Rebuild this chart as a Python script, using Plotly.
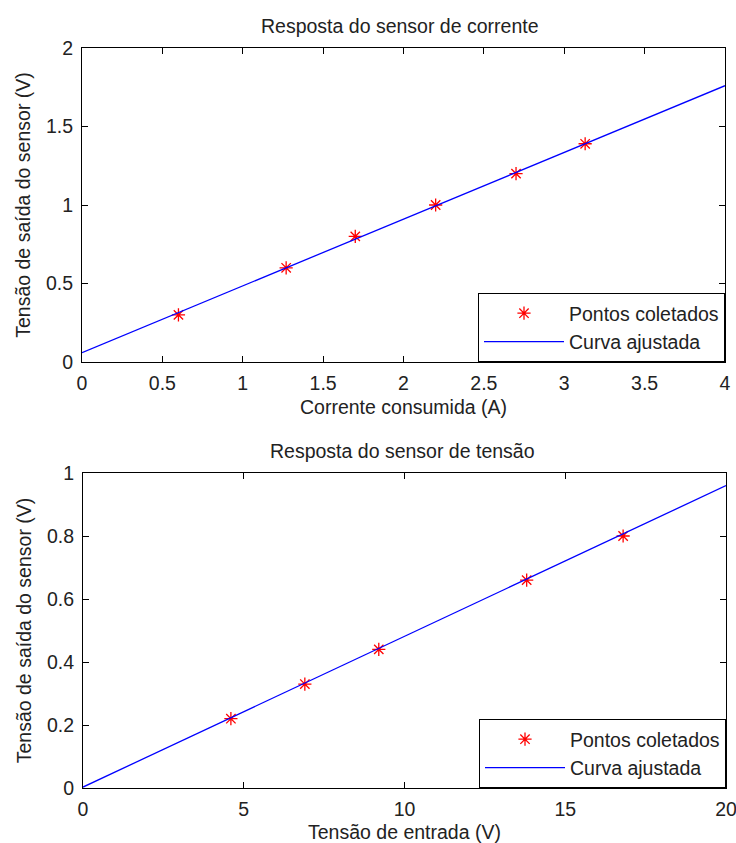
import plotly.graph_objects as go

# Top chart: current sensor
cur_x = [0.6, 1.27, 1.7, 2.2, 2.7, 3.13]
cur_y = [0.30, 0.60, 0.80, 1.00, 1.20, 1.39]
cur_fit_x = [0, 1, 2, 3, 4]
cur_fit_y = [0.06, 0.485, 0.91, 1.335, 1.76]
cur_xticks = [0, 0.5, 1, 1.5, 2, 2.5, 3, 3.5, 4]
cur_yticks = [0, 0.5, 1, 1.5, 2]

# Bottom chart: voltage sensor
vol_x = [4.6, 6.9, 9.2, 13.8, 16.8]
vol_y = [0.22, 0.33, 0.44, 0.66, 0.80]
vol_fit_x = [0, 5, 10, 15, 20]
vol_fit_y = [0.003, 0.242, 0.481, 0.72, 0.96]
vol_xticks = [0, 5, 10, 15, 20]
vol_yticks = [0, 0.2, 0.4, 0.6, 0.8, 1]

W, H = 736, 843
FONT = "Liberation Sans, Arial, sans-serif"
FS = 19.5
TXT = "#222222"

def px(x):
    return x / W

def py(y):
    return 1 - y / H

fig = go.Figure()

mk = dict(symbol="asterisk-open", size=11, color="red", line=dict(color="red", width=1.3))
ln = dict(color="blue", width=1.3)

fig.add_trace(go.Scatter(x=cur_x, y=cur_y, mode="markers", name="Pontos coletados",
                         marker=mk, xaxis="x", yaxis="y", legend="legend"))
fig.add_trace(go.Scatter(x=cur_fit_x, y=cur_fit_y, mode="lines", name="Curva ajustada",
                         line=ln, xaxis="x", yaxis="y", legend="legend"))
fig.add_trace(go.Scatter(x=vol_x, y=vol_y, mode="markers", name="Pontos coletados",
                         marker=mk, xaxis="x2", yaxis="y2", legend="legend2"))
fig.add_trace(go.Scatter(x=vol_fit_x, y=vol_fit_y, mode="lines", name="Curva ajustada",
                         line=ln, xaxis="x2", yaxis="y2", legend="legend2"))

axis_common = dict(showline=True, linecolor="black", linewidth=1, mirror="ticks",
                   ticks="inside", ticklen=6, tickcolor="black", showgrid=False,
                   zeroline=False, automargin=False, ticklabeloverflow="allow",
                   tickfont=dict(family=FONT, size=FS, color=TXT))

fig.update_layout(
    width=W, height=H,
    paper_bgcolor="white", plot_bgcolor="white",
    margin=dict(l=0, r=0, t=0, b=0),
    font=dict(family=FONT, size=FS, color=TXT),
    xaxis=dict(domain=[px(82), px(725)], anchor="y", range=[0, 4], tickvals=cur_xticks,
               ticklabelstandoff=4,
               title=dict(text="Corrente consumida (A)", standoff=6,
                          font=dict(family=FONT, size=FS, color=TXT)), **axis_common),
    yaxis=dict(domain=[py(362), py(48)], anchor="x", range=[0, 2], tickvals=cur_yticks,
               ticklabelstandoff=4,
               title=dict(text="Tensão de saída do sensor (V)", standoff=10,
                          font=dict(family=FONT, size=FS, color=TXT)), **axis_common),
    xaxis2=dict(domain=[px(83), px(726)], anchor="y2", range=[0, 20], tickvals=vol_xticks,
                ticklabelstandoff=4,
                title=dict(text="Tensão de entrada (V)", standoff=6,
                           font=dict(family=FONT, size=FS, color=TXT)), **axis_common),
    yaxis2=dict(domain=[py(788), py(473)], anchor="x2", range=[0, 1], tickvals=vol_yticks,
                ticklabelstandoff=4,
                title=dict(text="Tensão de saída do sensor (V)", standoff=10,
                           font=dict(family=FONT, size=FS, color=TXT)), **axis_common),
    legend=dict(x=px(725), y=py(362), xanchor="right", yanchor="bottom",
                bordercolor="black", borderwidth=1, bgcolor="white", itemwidth=80,
                font=dict(family=FONT, size=FS, color=TXT), tracegroupgap=0),
    legend2=dict(x=px(726), y=py(788), xanchor="right", yanchor="bottom",
                 bordercolor="black", borderwidth=1, bgcolor="white", itemwidth=80,
                 font=dict(family=FONT, size=FS, color=TXT), tracegroupgap=0),
    showlegend=True,
    annotations=[
        dict(text="Resposta do sensor de corrente", x=px(400), y=py(26), xref="paper", yref="paper",
             xanchor="center", yanchor="middle",
             showarrow=False, font=dict(family=FONT, size=FS, color=TXT)),
        dict(text="Resposta do sensor de tensão", x=px(402), y=py(451), xref="paper", yref="paper",
             xanchor="center", yanchor="middle",
             showarrow=False, font=dict(family=FONT, size=FS, color=TXT)),
    ],
)

fig.write_html("out.html", config={"displayModeBar": False},
               post_script="document.body.style.margin='0';")
